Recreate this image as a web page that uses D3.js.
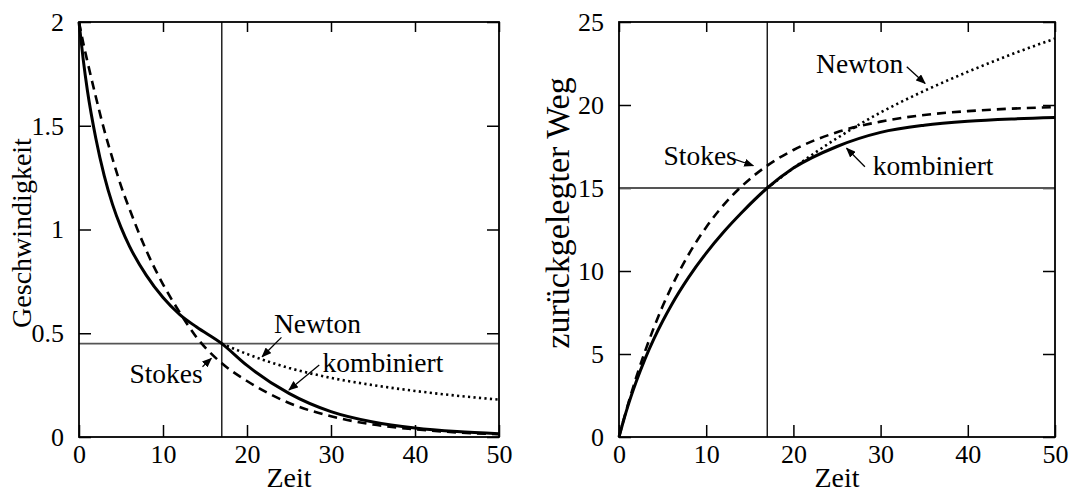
<!DOCTYPE html>
<html>
<head>
<meta charset="utf-8">
<script src="https://cdn.jsdelivr.net/npm/d3@7"></script>
<style>
  body { margin: 0; background: #fff; }
  svg { display: block; }
</style>
</head>
<body>
<div id="chart"></div>
<script>
// Zeitpunkte (gemeinsam fuer alle Kurven)
const zeit = [0, 0.5, 1, 2, 3, 4, 5, 6, 8, 10, 12, 14, 17, 20, 25, 30, 35, 40, 45, 50];

// Geschwindigkeit
const vKombiniert = [2, 1.82, 1.67, 1.44, 1.26, 1.12, 1.01, 0.92, 0.78, 0.672, 0.59, 0.53, 0.45, 0.345, 0.21, 0.122, 0.072, 0.043, 0.026, 0.016];
const vStokes     = [2, 1.90, 1.81, 1.64, 1.48, 1.34, 1.21, 1.10, 0.90, 0.736, 0.60, 0.48, 0.355, 0.27, 0.164, 0.10, 0.06, 0.037, 0.022, 0.0135];
const vNewton     = [null, null, null, null, null, null, null, null, null, null, null, null, 0.45, 0.40, 0.333, 0.285, 0.25, 0.222, 0.199, 0.18];

// zurueckgelegter Weg
const sKombiniert = [0, 0.95, 1.83, 3.37, 4.72, 5.91, 6.97, 7.94, 9.63, 11.08, 12.35, 13.48, 15.0, 16.2, 17.5, 18.35, 18.78, 19.02, 19.16, 19.25];
const sStokes     = [0, 0.975, 1.90, 3.63, 5.18, 6.59, 7.87, 9.02, 11.01, 12.64, 13.98, 15.07, 16.35, 17.29, 18.36, 19.0, 19.4, 19.63, 19.78, 19.87];
const sNewton     = [null, null, null, null, null, null, null, null, null, null, null, null, 15.0, 16.2, 18.0, 19.55, 20.85, 22.0, 23.05, 24.0];

// Achsen
const xTicks = [0, 10, 20, 30, 40, 50];
const vTicks = [0, 0.5, 1, 1.5, 2];
const sTicks = [0, 5, 10, 15, 20, 25];
const tKrit = 17;      // Uebergang Newton -> Stokes
const vKrit = 0.45;
const sKrit = 15;

// Beschriftungen: [text, x, y, pfeil von x, y, pfeil bis x, y] in Datenkoordinaten
const notesV = [
  ["Newton", 23.2, 0.50, 24.1, 0.48, 21.8, 0.387],
  ["kombiniert", 29.0, 0.315, 28.6, 0.347, 25.0, 0.227],
  ["Stokes", 6.0, 0.26, 14.7, 0.339, 15.75, 0.379]
];
const notesS = [
  ["Newton", 22.6, 21.95, 33.0, 22.3, 35.1, 21.3],
  ["Stokes", 5.1, 16.4, 13.3, 16.73, 15.4, 16.34],
  ["kombiniert", 29.1, 15.8, 28.2, 16.28, 26.1, 17.39]
];

const FONT = '"Liberation Serif", "Times New Roman", Times, serif';
const W = 1074, H = 492;

var svg = d3.select('#chart').append('svg')
    .attr('width', W)
    .attr('height', H)
    .attr('font-family', FONT);

svg.append('defs').append('marker')
    .attr('id', 'pfeil')
    .attr('markerUnits', 'userSpaceOnUse')
    .attr('markerWidth', 10).attr('markerHeight', 8)
    .attr('refX', 9).attr('refY', 4)
    .attr('orient', 'auto')
    .append('path')
    .attr('d', 'M0,0 L10,4 L0,8 z')
    .attr('fill', '#000');

function drawPanel(p)
{
    var g = svg.append('g').attr('transform', 'translate(' + p.left + ',' + p.top + ')');
    var w = p.width, h = p.height;

    var x = d3.scaleLinear().domain([0, 50]).range([0, w]);
    var y = d3.scaleLinear().domain(p.yDomain).range([h, 0]);

    // Achsen mit Ticks nach innen
    g.append('g').attr('class', 'axis').attr('transform', 'translate(0,' + h + ')')
        .call(d3.axisBottom(x).tickValues(xTicks).tickSizeInner(-12).tickSizeOuter(0).tickPadding(8));
    g.append('g').attr('class', 'axis')
        .call(d3.axisTop(x).tickValues(xTicks).tickSizeInner(-10).tickSizeOuter(0).tickFormat(''));
    g.append('g').attr('class', 'axis')
        .call(d3.axisLeft(y).tickValues(p.yTicks).tickSizeInner(-12).tickSizeOuter(0).tickPadding(15).tickFormat(d3.format('')));
    g.append('g').attr('class', 'axis').attr('transform', 'translate(' + w + ',0)')
        .call(d3.axisRight(y).tickValues(p.yTicks).tickSizeInner(-12).tickSizeOuter(0).tickFormat(''));

    g.selectAll('.axis').attr('font-family', FONT).attr('font-size', 26);
    g.selectAll('.axis .domain').remove();
    g.selectAll('.axis line').attr('stroke', '#000').attr('stroke-width', 1.5);
    g.selectAll('.axis text').attr('fill', '#000');

    // Hilfslinien
    g.append('line')
        .attr('x1', x(tKrit)).attr('x2', x(tKrit))
        .attr('y1', 0).attr('y2', h)
        .attr('stroke', '#000').attr('stroke-width', 1.3);
    g.append('line')
        .attr('x1', 0).attr('x2', w)
        .attr('y1', y(p.yKrit)).attr('y2', y(p.yKrit))
        .attr('stroke', '#555').attr('stroke-width', 1.8);

    var line = d3.line()
        .defined(function(d) { return d[1] != null; })
        .x(function(d) { return x(d[0]); })
        .y(function(d) { return y(d[1]); })
        .curve(d3.curveMonotoneX);

    function pts(arr) { return zeit.map(function(t, i) { return [t, arr[i]]; }); }

    g.append('path').attr('d', line(pts(p.stokes)))
        .attr('fill', 'none').attr('stroke', '#000').attr('stroke-width', 2.6)
        .attr('stroke-dasharray', '9,6');
    g.append('path').attr('d', line(pts(p.newton)))
        .attr('fill', 'none').attr('stroke', '#000').attr('stroke-width', 2.6)
        .attr('stroke-dasharray', '2.2,3.3');
    g.append('path').attr('d', line(pts(p.komb)))
        .attr('fill', 'none').attr('stroke', '#000').attr('stroke-width', 3);

    // Rahmen
    g.append('rect').attr('width', w).attr('height', h)
        .attr('fill', 'none').attr('stroke', '#000').attr('stroke-width', 1.8);

    // Beschriftungen mit Pfeilen
    p.notes.forEach(function(n) {
        g.append('text').attr('x', x(n[1])).attr('y', y(n[2]))
            .attr('font-family', FONT).attr('font-size', 27.5).text(n[0]);
        g.append('line')
            .attr('x1', x(n[3])).attr('y1', y(n[4]))
            .attr('x2', x(n[5])).attr('y2', y(n[6]))
            .attr('stroke', '#000').attr('stroke-width', 1.3)
            .attr('marker-end', 'url(#pfeil)');
    });

    // Achsentitel
    g.append('text').attr('x', w / 2).attr('y', h + 50)
        .attr('text-anchor', 'middle').attr('font-family', FONT).attr('font-size', 28).text('Zeit');
    g.append('text')
        .attr('transform', 'translate(' + p.yTitleX + ',' + p.yTitleY + ') rotate(-90)')
        .attr('text-anchor', 'middle').attr('font-family', FONT)
        .attr('font-size', p.yTitleSize).text(p.yTitle);
}

drawPanel({
    left: 79, top: 22, width: 420, height: 415,
    yDomain: [0, 2], yTicks: vTicks, yKrit: vKrit,
    komb: vKombiniert, stokes: vStokes, newton: vNewton,
    notes: notesV,
    yTitle: 'Geschwindigkeit', yTitleX: -48, yTitleY: 211, yTitleSize: 28
});

drawPanel({
    left: 619, top: 22, width: 436, height: 415,
    yDomain: [0, 25], yTicks: sTicks, yKrit: sKrit,
    komb: sKombiniert, stokes: sStokes, newton: sNewton,
    notes: notesS,
    yTitle: 'zurückgelegter Weg', yTitleX: -50, yTitleY: 191, yTitleSize: 34
});
</script>
</body>
</html>
